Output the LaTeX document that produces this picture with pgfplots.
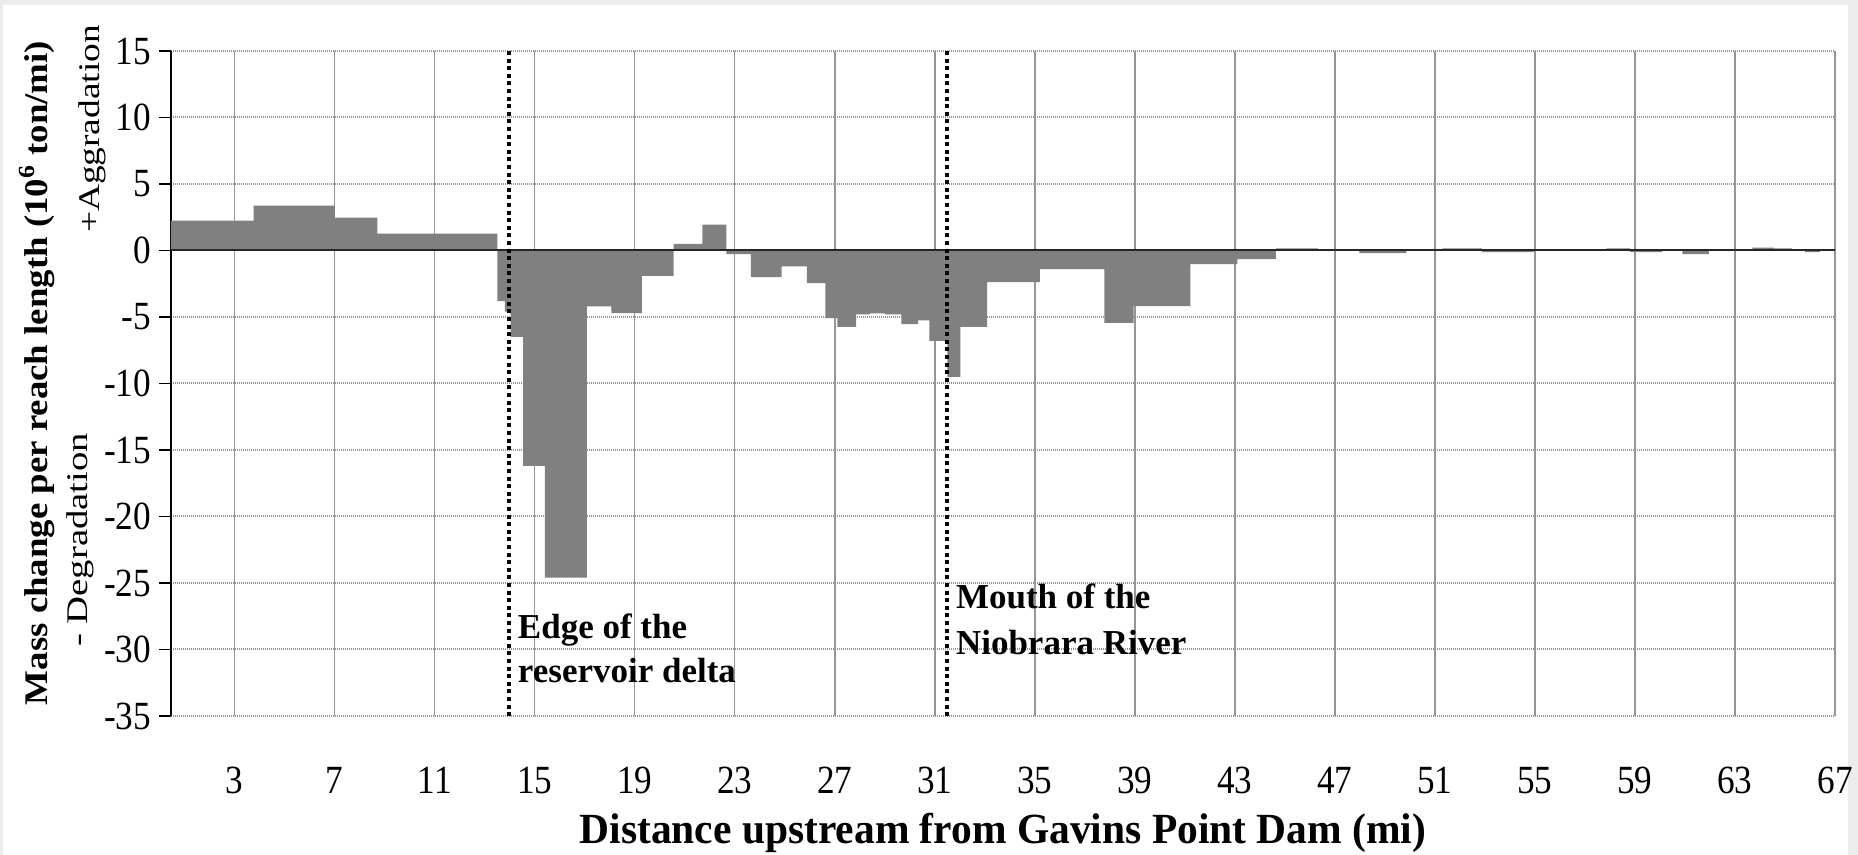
\documentclass[border=0pt]{standalone}
\usepackage{graphicx}
\usepackage{pgfplots}
\pgfplotsset{compat=1.18}
\usepackage{fontspec}
\setmainfont{Liberation Serif}
\newfontfamily\tickfont[FakeStretch=0.88]{Liberation Serif}
\newfontfamily\xlabfont[FakeStretch=0.965]{Liberation Serif}
\definecolor{pagegray}{RGB}{234,237,235}
\definecolor{barfill}{RGB}{128,128,128}
\definecolor{vgrid}{RGB}{150,150,150}
\definecolor{hgrid}{RGB}{150,150,150}
% stretch a label along its baseline to a given length, keeping its height
\newcommand\stretchto[2]{\resizebox{#1}{\height}{#2}}

\begin{document}
\begin{tikzpicture}
\path[use as bounding box] (0,0) rectangle (929pt,427.5pt);
\fill[pagegray] (0,0) rectangle (929pt,427.5pt);
\fill[white] (1.5pt,0) rectangle (924pt,425pt);
\begin{axis}[
  at={(85.5pt,69.5pt)}, anchor=south west,
  scale only axis, width=832pt, height=332.5pt,
  xmin=0.45, xmax=67, ymin=-35, ymax=15,
  axis lines*=left,
  x axis line style={draw=none},
  y axis line style={black, line width=0.8pt},
  xtick={3,7,...,67},
  xticklabels={3,7,11,15,19,23,27,31,35,39,43,47,51,55,59,63,67},
  ytick={-35,-30,...,15},
  yticklabels={-35,-30,-25,-20,-15,-10,-5,0,5,10,15},
  tick align=outside, major tick length=6pt,
  xtick style={draw=none},
  ytick style={black, line width=0.8pt},
  ticklabel style={font=\tickfont\fontsize{20}{23}\selectfont},
  xticklabel style={anchor=base, yshift=-33pt},
  yticklabel style={xshift=-0.5pt},
  grid=major,
  x grid style={vgrid, line width=0.65pt},
  y grid style={hgrid, line width=1pt, dash pattern=on 0.5pt off 0.5pt},
  clip=false,
  xlabel={Distance upstream from Gavins Point Dam (mi)},
  xlabel style={at={(axis description cs:0.5,-0.191)}, anchor=base,
    font=\xlabfont\bfseries\fontsize{21.5}{25}\selectfont},
  ylabel={\stretchto{332pt}{\bfseries\fontsize{16.5}{20}\selectfont
    Mass change per reach length (10\textsuperscript{6} ton/mi)}},
  ylabel style={at={(axis description cs:-0.0745,0.5158)}, anchor=base},
]
% sediment mass change per reach, each reach starting at the given river mile
\addplot[const plot, fill=barfill, draw=none] coordinates {
  (0.45,2.25) (3.75,3.375) (7.0,2.475) (8.7,1.275) (13.5,-3.8) (13.8,-4.6)
  (14.03,-6.5) (14.53,-16.2) (15.4,-24.6) (17.08,-4.2) (18.06,-4.7)
  (19.28,-1.9) (20.55,0.5) (21.7,1.95) (22.66,-0.28) (23.64,-2.0)
  (24.87,-1.2) (25.88,-2.45) (26.62,-5.08) (27.1,-5.75) (27.85,-4.8)
  (28.41,-4.73) (29.0,-4.8) (29.66,-5.53) (30.33,-5.25) (30.78,-6.8)
  (31.5,-9.5) (32.02,-5.75) (33.09,-2.38) (35.2,-1.4) (37.78,-5.45)
  (38.95,-4.18) (41.22,-1.03) (43.1,-0.65) (44.64,0.15) (46.33,0)
  (47.98,-0.2) (49.86,0) (51.3,0.15) (52.88,-0.12) (54.95,0)
  (57.87,0.15) (58.8,-0.12) (60.1,0) (60.9,-0.28) (61.96,0)
  (63.7,0.22) (64.55,0.15) (65.27,0) (65.8,-0.12) (66.4,0) (67,0)
} \closedcycle;
% zero line
\draw[black!85, line width=1pt] (axis cs:0.45,0) -- (axis cs:67,0);
% reference locations
\draw[black, line width=2pt, dash pattern=on 2pt off 1.8pt]
  (axis cs:13.97,15) -- (axis cs:13.97,-35);
\draw[black, line width=2pt, dash pattern=on 2pt off 1.8pt]
  (axis cs:31.48,15) -- (axis cs:31.48,-35);
\node[anchor=base west, inner sep=0, font=\bfseries\fontsize{17.5}{21}\selectfont]
  at (axis cs:14.31,-29.14) {Edge of the};
\node[anchor=base west, inner sep=0, font=\bfseries\fontsize{17.5}{21}\selectfont]
  at (axis cs:14.31,-32.45) {reservoir delta};
\node[anchor=base west, inner sep=0, font=\bfseries\fontsize{17.5}{21}\selectfont]
  at (axis cs:31.83,-26.95) {Mouth of the};
\node[anchor=base west, inner sep=0, font=\bfseries\fontsize{17.5}{21}\selectfont]
  at (axis cs:31.83,-30.41) {Niobrara River};
% direction of change
\node[rotate=90, anchor=base, inner sep=0]
  at (axis description cs:-0.0427,0.8827)
  {\stretchto{104pt}{\fontsize{15}{18}\selectfont +Aggradation}};
\node[rotate=90, anchor=base, inner sep=0]
  at (axis description cs:-0.0499,0.2647)
  {\stretchto{107pt}{\fontsize{15}{18}\selectfont - Degradation}};
\end{axis}
\end{tikzpicture}
\end{document}
